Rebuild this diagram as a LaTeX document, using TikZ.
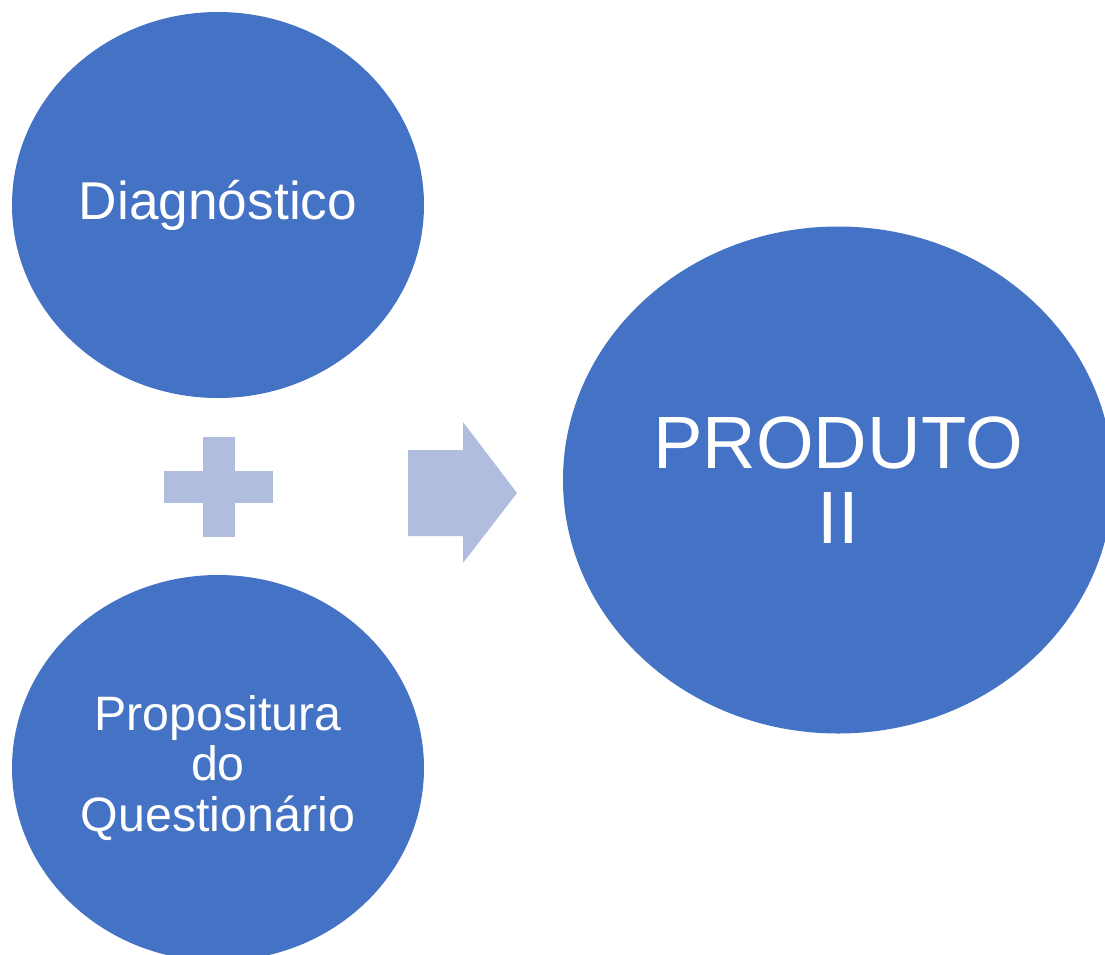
\documentclass[tikz,border=0pt]{standalone}
\usepackage{fontspec}
\setmainfont{Liberation Sans}
\usepackage{xcolor}
\usepackage{tikz}
\usetikzlibrary{positioning,shapes.geometric}
\definecolor{c_blue}{HTML}{4472C4}
\definecolor{c_light}{HTML}{B0BDDE}
\tikzset{c-ellipse/.style={ellipse, inner sep=0pt, fill=c_blue, text=white, align=center, minimum width=8.24cm, minimum height=7.72cm},
c-sign/.style={fill=c_light}}

\begin{document}
\begin{tikzpicture}
\clip (0,0) rectangle (22.1,-19.1);
\useasboundingbox (0,0) rectangle (22.1,-19.1);
\node (n0) [c-ellipse, font=\fontsize{30.3}{34}\selectfont] at (4.36,-4.10) {Diagnóstico};
\node (n1) [c-ellipse, font=\fontsize{27.5}{28.5}\selectfont] at (4.36,-15.36) {Propositura\\do\\Questionário};
\node (n2) [c-ellipse, minimum width=11cm, minimum height=10.14cm, font=\fontsize{42.2}{43}\selectfont] at (16.76,-9.60) {PRODUTO\\II};
% plus sign
\fill [c-sign] (3.28,-9.42) rectangle (5.46,-10.06);
\fill [c-sign] (4.06,-8.74) rectangle (4.70,-10.74);
% block arrow
\fill [c-sign] (8.16,-9.00) -- (9.26,-9.00) -- (9.26,-8.44) -- (10.34,-9.86)
  -- (9.26,-11.26) -- (9.26,-10.72) -- (8.16,-10.72) -- cycle;
\end{tikzpicture}
\end{document}
